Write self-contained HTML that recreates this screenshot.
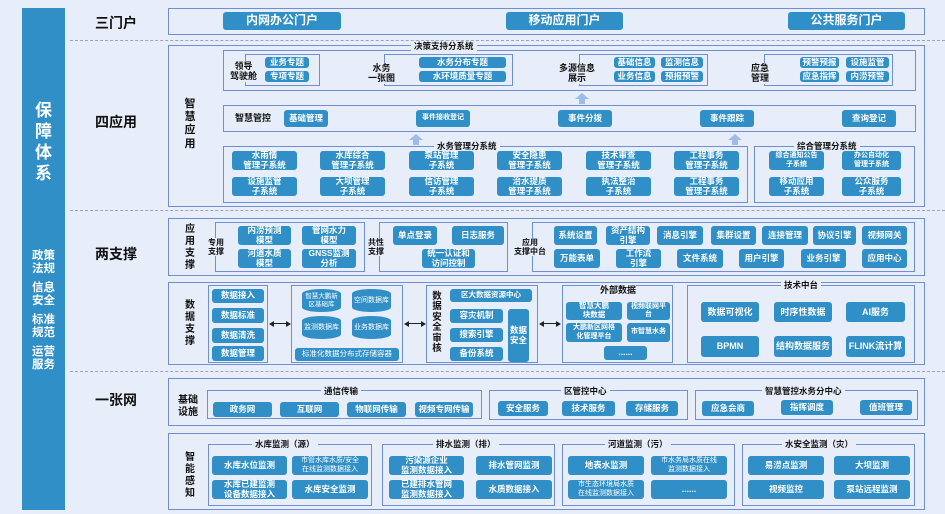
<!DOCTYPE html>
<html><head><meta charset="utf-8"><style>
*{margin:0;padding:0;box-sizing:border-box}
body{width:945px;height:514px;background:#e8eef9;position:relative;overflow:hidden;font-family:"Liberation Sans","Noto Sans CJK SC",sans-serif;color:#111}
div{position:absolute}
.f{border:1.5px solid #6f8fd0}
.b{background:#2f8fc6;color:#fff;border-radius:3px;display:flex;align-items:center;justify-content:center;text-align:center;font-size:8.5px;line-height:1.15;font-weight:bold}
.t{background:#e8eef9;font-size:8.5px;font-weight:bold;padding:0 3px;white-space:nowrap;line-height:10px}
.l{font-size:9px;font-weight:bold;line-height:1.15;text-align:center;background:#e8eef9}
.v{font-size:10px;font-weight:bold;width:12px;line-height:1.2;text-align:center}
.row{font-size:14px;font-weight:bold}
.d{left:70px;width:875px;border-top:1.5px dashed #9aa6b8;height:0}
.ar{width:0;height:0;border-left:7px solid transparent;border-right:7px solid transparent;border-bottom:6px solid #9dbcec}
.as{background:#9dbcec;width:6px;height:5px}
.h{height:0;border-top:1.2px solid #222}
.hl{width:0;height:0;border-top:3px solid transparent;border-bottom:3px solid transparent;border-right:5px solid #222}
.hr{width:0;height:0;border-top:3px solid transparent;border-bottom:3px solid transparent;border-left:5px solid #222}
.cy{background:#2f8fc6;color:#fff;font-size:7px;display:flex;align-items:center;justify-content:center;text-align:center;border-radius:50%/20%;line-height:1.1}
</style></head><body>
<div style="left:22px;top:8px;width:43px;height:502px;background:#2f8fc6"></div>
<div style="left:22px;top:100px;width:43px;color:#fff;font-size:17px;font-weight:bold;text-align:center;line-height:21px">保<br>障<br>体<br>系</div>
<div style="left:22px;top:250px;width:43px;color:#fff;font-size:11.5px;font-weight:bold;text-align:center;line-height:13px">政策<br>法规<br><div style="position:static;height:6px"></div>信息<br>安全<br><div style="position:static;height:6px"></div>标准<br>规范<br><div style="position:static;height:6px"></div>运营<br>服务</div>
<div class="d" style="top:40px"></div>
<div class="d" style="top:210px"></div>
<div class="d" style="top:371px"></div>
<div class="row" style="left:95px;top:13px">三门户</div>
<div class="row" style="left:95px;top:112px">四应用</div>
<div class="row" style="left:95px;top:244px">两支撑</div>
<div class="row" style="left:95px;top:390px">一张网</div>

<div class="f" style="left:168px;top:8px;width:757px;height:27px"></div>
<div class="b" style="left:223px;top:12px;width:118px;height:18px;font-size:12px">内网办公门户</div>
<div class="b" style="left:506px;top:12px;width:117px;height:18px;font-size:12px">移动应用门户</div>
<div class="b" style="left:788px;top:12px;width:117px;height:18px;font-size:12px">公共服务门户</div>

<div class="f" style="left:168px;top:45px;width:757px;height:162px"></div>
<div class="v" style="left:184px;top:98px;font-size:11px">智慧应用</div>
<div class="f" style="left:223px;top:50px;width:693px;height:41px"></div>
<div class="t" style="left:411px;top:41px">决策支持分系统</div>
<div class="f" style="left:245px;top:54px;width:75px;height:32px"></div>
<div class="l" style="left:230px;top:61px">领导<br>驾驶舱</div>
<div class="b" style="left:265px;top:57px;width:44px;height:11px">业务专题</div>
<div class="b" style="left:265px;top:71px;width:44px;height:11px">专项专题</div>
<div class="f" style="left:384px;top:54px;width:129px;height:32px"></div>
<div class="l" style="left:368px;top:63px">水务<br>一张图</div>
<div class="b" style="left:419px;top:57px;width:87px;height:11px">水务分布专题</div>
<div class="b" style="left:419px;top:71px;width:87px;height:11px">水环境质量专题</div>
<div class="f" style="left:579px;top:54px;width:129px;height:32px"></div>
<div class="l" style="left:559px;top:63px">多源信息<br>展示</div>
<div class="b" style="left:614px;top:57px;width:41px;height:11px">基础信息</div>
<div class="b" style="left:661px;top:57px;width:42px;height:11px">监测信息</div>
<div class="b" style="left:614px;top:71px;width:41px;height:11px">业务信息</div>
<div class="b" style="left:661px;top:71px;width:42px;height:11px">预报预警</div>
<div class="f" style="left:764px;top:54px;width:129px;height:32px"></div>
<div class="l" style="left:751px;top:63px">应急<br>管理</div>
<div class="b" style="left:800px;top:57px;width:39px;height:11px">预警预报</div>
<div class="b" style="left:846px;top:57px;width:43px;height:11px">设施监管</div>
<div class="b" style="left:800px;top:71px;width:39px;height:11px">应急指挥</div>
<div class="b" style="left:846px;top:71px;width:43px;height:11px">内涝预警</div>
<div class="ar" style="left:575px;top:93px"></div><div class="as" style="left:579px;top:99px"></div>

<div class="f" style="left:223px;top:105px;width:693px;height:27px"></div>
<div class="l" style="left:235px;top:113px">智慧管控</div>
<div class="b" style="left:284px;top:110px;width:44px;height:17px">基础管理</div>
<div class="b" style="left:416px;top:110px;width:54px;height:17px;font-size:7px">事件接收登记</div>
<div class="b" style="left:558px;top:110px;width:54px;height:17px">事件分拨</div>
<div class="b" style="left:700px;top:110px;width:54px;height:17px">事件跟踪</div>
<div class="b" style="left:842px;top:110px;width:54px;height:17px">查询登记</div>
<div class="ar" style="left:409px;top:134px"></div><div class="as" style="left:413px;top:140px"></div>
<div class="ar" style="left:728px;top:134px"></div><div class="as" style="left:732px;top:140px"></div>

<div class="f" style="left:223px;top:146px;width:525px;height:57px"></div>
<div class="t" style="left:434px;top:141px">水务管理分系统</div>
<div class="b" style="left:232px;top:151px;width:65px;height:19px">水雨情<br>管理子系统</div>
<div class="b" style="left:320px;top:151px;width:65px;height:19px">水库综合<br>管理子系统</div>
<div class="b" style="left:409px;top:151px;width:65px;height:19px">泵站管理<br>子系统</div>
<div class="b" style="left:497px;top:151px;width:65px;height:19px">安全隐患<br>管理子系统</div>
<div class="b" style="left:586px;top:151px;width:65px;height:19px">技术审查<br>管理子系统</div>
<div class="b" style="left:674px;top:151px;width:65px;height:19px">工程事务<br>管理子系统</div>
<div class="b" style="left:232px;top:177px;width:65px;height:19px">设施监管<br>子系统</div>
<div class="b" style="left:320px;top:177px;width:65px;height:19px">大坝管理<br>子系统</div>
<div class="b" style="left:409px;top:177px;width:65px;height:19px">信访管理<br>子系统</div>
<div class="b" style="left:497px;top:177px;width:65px;height:19px">治水提质<br>管理子系统</div>
<div class="b" style="left:586px;top:177px;width:65px;height:19px">执法整治<br>子系统</div>
<div class="b" style="left:674px;top:177px;width:65px;height:19px">工程事务<br>管理子系统</div>
<div class="f" style="left:754px;top:146px;width:161px;height:57px"></div>
<div class="t" style="left:794px;top:141px">综合管理分系统</div>
<div class="b" style="left:769px;top:151px;width:55px;height:19px;font-size:7px">综合通知公告<br>子系统</div>
<div class="b" style="left:842px;top:151px;width:59px;height:19px;font-size:7px">办公自动化<br>管理子系统</div>
<div class="b" style="left:769px;top:177px;width:55px;height:19px">移动应用<br>子系统</div>
<div class="b" style="left:842px;top:177px;width:59px;height:19px">公众服务<br>子系统</div>

<div class="f" style="left:168px;top:218px;width:757px;height:58px"></div>
<div class="v" style="left:184px;top:224px">应用支撑</div>
<div class="f" style="left:215px;top:222px;width:150px;height:50px"></div>
<div class="l" style="left:208px;top:238px;font-size:8px">专用<br>支撑</div>
<div class="b" style="left:238px;top:226px;width:53px;height:19px">内涝预测<br>模型</div>
<div class="b" style="left:302px;top:226px;width:54px;height:19px">管网水力<br>模型</div>
<div class="b" style="left:238px;top:249px;width:53px;height:19px">河道水质<br>模型</div>
<div class="b" style="left:302px;top:249px;width:54px;height:19px">GNSS监测<br>分析</div>
<div class="f" style="left:379px;top:222px;width:129px;height:50px"></div>
<div class="l" style="left:368px;top:238px;font-size:8px">共性<br>支撑</div>
<div class="b" style="left:393px;top:226px;width:44px;height:19px">单点登录</div>
<div class="b" style="left:452px;top:226px;width:52px;height:19px">日志服务</div>
<div class="b" style="left:422px;top:249px;width:53px;height:19px">统一认证和<br>访问控制</div>
<div class="f" style="left:532px;top:222px;width:383px;height:50px"></div>
<div class="l" style="left:514px;top:238px;font-size:8px">应用<br>支撑中台</div>
<div class="b" style="left:554px;top:226px;width:43px;height:19px">系统设置</div>
<div class="b" style="left:606px;top:226px;width:44px;height:19px">资产结构<br>引擎</div>
<div class="b" style="left:657px;top:226px;width:46px;height:19px">消息引擎</div>
<div class="b" style="left:711px;top:226px;width:45px;height:19px">集群设置</div>
<div class="b" style="left:762px;top:226px;width:46px;height:19px">连接管理</div>
<div class="b" style="left:813px;top:226px;width:43px;height:19px">协议引擎</div>
<div class="b" style="left:862px;top:226px;width:45px;height:19px">视频网关</div>
<div class="b" style="left:554px;top:249px;width:46px;height:19px">万能表单</div>
<div class="b" style="left:616px;top:249px;width:45px;height:19px">工作流<br>引擎</div>
<div class="b" style="left:677px;top:249px;width:46px;height:19px">文件系统</div>
<div class="b" style="left:739px;top:249px;width:45px;height:19px">用户引擎</div>
<div class="b" style="left:801px;top:249px;width:45px;height:19px">业务引擎</div>
<div class="b" style="left:862px;top:249px;width:45px;height:19px">应用中心</div>

<div class="f" style="left:168px;top:282px;width:757px;height:83px"></div>
<div class="v" style="left:184px;top:300px">数据支撑</div>
<div class="f" style="left:208px;top:285px;width:60px;height:78px"></div>
<div class="b" style="left:212px;top:289px;width:52px;height:14px">数据接入</div>
<div class="b" style="left:212px;top:308px;width:52px;height:15px">数据标准</div>
<div class="b" style="left:212px;top:328px;width:52px;height:15px">数据清洗</div>
<div class="b" style="left:212px;top:346px;width:52px;height:15px">数据管理</div>
<div class="h" style="left:272px;top:323px;width:16px"></div><div class="hl" style="left:269px;top:321px"></div><div class="hr" style="left:286px;top:321px"></div>
<div class="f" style="left:291px;top:285px;width:112px;height:78px"></div>
<div class="cy" style="left:302px;top:289px;width:39px;height:23px;font-size:6.5px">智慧大鹏新<br>区基础库</div>
<div class="cy" style="left:352px;top:289px;width:39px;height:23px">空间数据库</div>
<div class="cy" style="left:302px;top:316px;width:39px;height:23px">监测数据库</div>
<div class="cy" style="left:352px;top:316px;width:39px;height:23px">业务数据库</div>
<div class="b" style="left:295px;top:348px;width:104px;height:13px;font-size:7.5px;font-weight:normal">标准化数据分布式存储容器</div>
<div class="h" style="left:407px;top:323px;width:16px"></div><div class="hl" style="left:404px;top:321px"></div><div class="hr" style="left:421px;top:321px"></div>
<div class="f" style="left:426px;top:285px;width:112px;height:78px"></div>
<div class="v" style="left:431px;top:292px;font-size:9.5px;line-height:1.1">数据安全审核</div>
<div class="b" style="left:450px;top:289px;width:82px;height:13px;font-size:7.5px">区大数据资源中心</div>
<div class="b" style="left:450px;top:309px;width:53px;height:14px">容灾机制</div>
<div class="b" style="left:450px;top:328px;width:53px;height:14px">搜索引擎</div>
<div class="b" style="left:450px;top:347px;width:53px;height:14px">备份系统</div>
<div class="b" style="left:508px;top:309px;width:21px;height:53px">数据<br>安全</div>
<div class="h" style="left:542px;top:323px;width:16px"></div><div class="hl" style="left:539px;top:321px"></div><div class="hr" style="left:556px;top:321px"></div>
<div class="f" style="left:562px;top:285px;width:111px;height:78px"></div>
<div class="l" style="left:600px;top:285px">外部数据</div>
<div class="b" style="left:566px;top:302px;width:56px;height:18px;font-size:7.5px">智慧大鹏<br>块数据</div>
<div class="b" style="left:627px;top:302px;width:43px;height:18px;font-size:7px">视频联网平<br>台</div>
<div class="b" style="left:566px;top:323px;width:56px;height:19px;font-size:7px">大鹏新区网格<br>化管理平台</div>
<div class="b" style="left:627px;top:323px;width:43px;height:19px;font-size:7px">市智慧水务</div>
<div class="b" style="left:604px;top:346px;width:43px;height:14px">......</div>
<div class="f" style="left:687px;top:285px;width:228px;height:78px"></div>
<div class="t" style="left:781px;top:280px">技术中台</div>
<div class="b" style="left:701px;top:302px;width:58px;height:20px;font-size:9px">数据可视化</div>
<div class="b" style="left:774px;top:302px;width:58px;height:20px;font-size:9px">时序性数据</div>
<div class="b" style="left:846px;top:302px;width:59px;height:20px;font-size:9px">AI服务</div>
<div class="b" style="left:701px;top:336px;width:58px;height:21px;font-size:9px">BPMN</div>
<div class="b" style="left:774px;top:336px;width:58px;height:21px;font-size:9px">结构数据服务</div>
<div class="b" style="left:846px;top:336px;width:59px;height:21px;font-size:9px">FLINK流计算</div>

<div class="f" style="left:168px;top:378px;width:757px;height:48px"></div>
<div class="l" style="left:178px;top:395px;font-size:10px">基础<br>设施</div>
<div class="f" style="left:207px;top:390px;width:275px;height:29px"></div>
<div class="t" style="left:321px;top:386px">通信传输</div>
<div class="b" style="left:213px;top:402px;width:59px;height:15px">政务网</div>
<div class="b" style="left:280px;top:402px;width:59px;height:15px">互联网</div>
<div class="b" style="left:347px;top:402px;width:59px;height:15px">物联网传输</div>
<div class="b" style="left:415px;top:402px;width:58px;height:15px">视频专网传输</div>
<div class="f" style="left:489px;top:390px;width:199px;height:30px"></div>
<div class="t" style="left:561px;top:386px">区管控中心</div>
<div class="b" style="left:498px;top:401px;width:50px;height:15px">安全服务</div>
<div class="b" style="left:562px;top:401px;width:53px;height:15px">技术服务</div>
<div class="b" style="left:626px;top:401px;width:52px;height:15px">存储服务</div>
<div class="f" style="left:695px;top:390px;width:223px;height:30px"></div>
<div class="t" style="left:762px;top:386px">智慧管控水务分中心</div>
<div class="b" style="left:702px;top:401px;width:52px;height:15px">应急会商</div>
<div class="b" style="left:781px;top:400px;width:52px;height:15px">指挥调度</div>
<div class="b" style="left:860px;top:400px;width:52px;height:15px">值班管理</div>

<div class="f" style="left:168px;top:433px;width:757px;height:77px"></div>
<div class="v" style="left:184px;top:452px">智能感知</div>
<div class="f" style="left:208px;top:444px;width:164px;height:62px"></div>
<div class="t" style="left:252px;top:439px">水库监测（源）</div>
<div class="b" style="left:212px;top:456px;width:75px;height:19px">水库水位监测</div>
<div class="b" style="left:292px;top:456px;width:76px;height:19px;font-size:7px;font-weight:normal">市管水库水质/安全<br>在线监测数据接入</div>
<div class="b" style="left:212px;top:480px;width:75px;height:19px">水库已建监测<br>设备数据接入</div>
<div class="b" style="left:292px;top:480px;width:76px;height:19px">水库安全监测</div>
<div class="f" style="left:382px;top:444px;width:173px;height:62px"></div>
<div class="t" style="left:433px;top:439px">排水监测（排）</div>
<div class="b" style="left:389px;top:456px;width:75px;height:19px">污染源企业<br>监测数据接入</div>
<div class="b" style="left:476px;top:456px;width:76px;height:19px">排水管网监测</div>
<div class="b" style="left:389px;top:480px;width:75px;height:19px">已建排水管网<br>监测数据接入</div>
<div class="b" style="left:476px;top:480px;width:76px;height:19px">水质数据接入</div>
<div class="f" style="left:562px;top:444px;width:173px;height:62px"></div>
<div class="t" style="left:605px;top:439px">河道监测（污）</div>
<div class="b" style="left:568px;top:456px;width:76px;height:19px">地表水监测</div>
<div class="b" style="left:651px;top:456px;width:76px;height:19px;font-size:7px;font-weight:normal">市水务局水质在线<br>监测数据接入</div>
<div class="b" style="left:568px;top:480px;width:76px;height:19px;font-size:7px;font-weight:normal">市生态环境局水质<br>在线监测数据接入</div>
<div class="b" style="left:651px;top:480px;width:76px;height:19px">......</div>
<div class="f" style="left:742px;top:444px;width:173px;height:62px"></div>
<div class="t" style="left:782px;top:439px">水安全监测（灾）</div>
<div class="b" style="left:748px;top:456px;width:76px;height:19px">易涝点监测</div>
<div class="b" style="left:834px;top:456px;width:76px;height:19px">大坝监测</div>
<div class="b" style="left:748px;top:480px;width:76px;height:19px">视频监控</div>
<div class="b" style="left:834px;top:480px;width:76px;height:19px">泵站远程监测</div>
</body></html>
